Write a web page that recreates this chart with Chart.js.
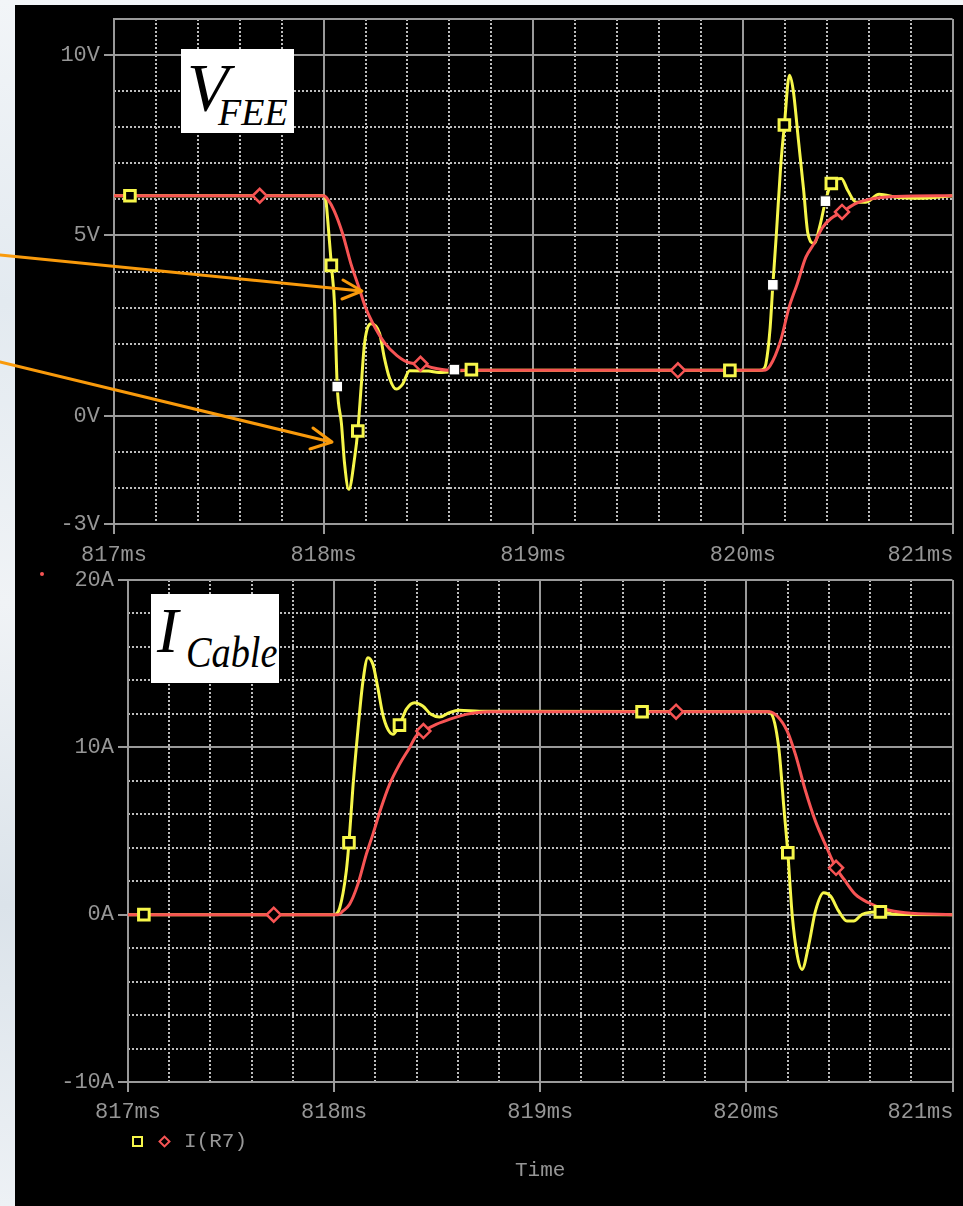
<!DOCTYPE html>
<html>
<head>
<meta charset="utf-8">
<script src="https://cdn.jsdelivr.net/npm/chart.js@4.4.0/dist/chart.umd.min.js"></script>
<style>
  body {
    margin: 0;
    width: 963px;
    height: 1206px;
    overflow: hidden;
    position: relative;
    background: linear-gradient(180deg, #f2f5f8 0%, #e3eaf0 25%, #f0f3f6 50%, #dbe3ea 75%, #edf1f5 100%);
  }
  #panel { position: absolute; left: 15px; top: 5px; width: 948px; height: 1201px; background: #000; }
  canvas { position: absolute; left: 0; }
  #topChart { top: 0; }
  #bottomChart { top: 565px; }
  .tag { position: absolute; background: #fff; font-family: "Liberation Serif", "Times New Roman", serif; font-style: italic; color: #000; }
  .tag span { position: absolute; line-height: 1; white-space: nowrap; }
  .mono { position: absolute; font-family: "Liberation Mono", monospace; font-size: 21px; color: #969696; line-height: 1; }
  #legSquare { position: absolute; left: 132px; top: 1136px; width: 7px; height: 7px; border: 2px solid #f6f64a; }
  #legDiamond { position: absolute; left: 160px; top: 1137px; width: 5px; height: 5px; border: 2px solid #f75454; transform: rotate(45deg); }
  #dot { position: absolute; left: 40px; top: 572px; width: 4px; height: 4px; border-radius: 2px; background: #f75454; }
  svg { position: absolute; left: 0; top: 0; }
</style>
</head>
<body>
<div id="panel"></div>
<div id="dot"></div>
<canvas id="topChart" width="963" height="565"></canvas>
<canvas id="bottomChart" width="963" height="641"></canvas>

<div class="tag" style="left:181px; top:49px; width:113px; height:84px;">
  <span style="left:6px; top:4px; font-size:68px;">V</span>
  <span style="left:37px; top:44px; font-size:38px;">FEE</span>
</div>
<div class="tag" style="left:151px; top:594px; width:128px; height:89px;">
  <span style="left:6px; top:5px; font-size:64px;">I</span>
  <span style="left:35px; top:37px; font-size:44px; transform:scaleX(0.87); transform-origin:left top;">Cable</span>
</div>

<div id="legSquare"></div>
<div id="legDiamond"></div>
<div class="mono" style="left:184px; top:1131px;">I(R7)</div>
<div class="mono" style="left:515px; top:1160px;">Time</div>

<svg width="963" height="1206">
  <g stroke="#f99a0b" stroke-width="3" fill="none" stroke-linecap="round" stroke-linejoin="round">
    <line x1="0" y1="255" x2="361" y2="291" />
    <polyline points="343,280 362,291 342,299" />
    <line x1="0" y1="362" x2="331" y2="442" />
    <polyline points="313,428 332,442 310,449" />
  </g>
</svg>

<script>
// time axis (ms), shared by both plots
const msTicks = [817, 818, 819, 820, 821];
const msMinorTicks = [817.2, 817.4, 817.6, 817.8, 818.2, 818.4, 818.6, 818.8,
  819.2, 819.4, 819.6, 819.8, 820.2, 820.4, 820.6, 820.8];

const voltTicks = [-3, 0, 5, 10, 11];
const voltMinorTicks = [-2, -1, 1, 2, 3, 4, 6, 7, 8, 9];
const ampTicks = [-10, 0, 10, 20];
const ampMinorTicks = [-8, -6, -4, -2, 2, 4, 6, 8, 12, 14, 16, 18];

// V_FEE, yellow trace
const vFastT = [817, 818.0, 818.01, 818.02, 818.037, 818.052, 818.065, 818.085, 818.1, 818.12,
  818.148, 818.163, 818.18, 818.195, 818.227, 818.267, 818.29, 818.314, 818.346, 818.377,
  818.41, 818.5, 818.55, 818.7, 820.08, 820.1, 820.11, 820.13, 820.143, 820.16,
  820.18, 820.198, 820.222, 820.24, 820.265, 820.29, 820.31, 820.34, 820.37, 820.394,
  820.422, 820.47, 820.5, 820.54, 820.585, 820.65, 820.74, 820.84, 821];
const vFastV = [6.1, 6.1, 6.0, 5.4, 4.17, 3.1, 0.81, -0.22, -1.33, -2.04,
  -1.16, -0.42, 0.88, 2.0, 2.55, 2.28, 1.6, 1.05, 0.74, 0.88,
  1.25, 1.24, 1.2, 1.26, 1.26, 1.3, 1.44, 2.44, 3.63, 5.06,
  6.89, 8.06, 9.44, 9.03, 7.64, 6.25, 5.06, 4.78, 5.33, 5.95,
  6.44, 6.58, 6.25, 5.92, 5.92, 6.14, 6.05, 6.03, 6.1];

// V_FEE, red trace
const vSlowT = [817, 818.0, 818.02, 818.05, 818.09, 818.13, 818.17, 818.2, 818.235, 818.29,
  818.35, 818.41, 818.462, 818.52, 818.6, 820.1, 820.13, 820.18, 820.22, 820.26,
  820.3, 820.34, 820.38, 820.42, 820.473, 820.54, 820.63, 820.73, 821];
const vSlowV = [6.1, 6.1, 6.0, 5.69, 5.06, 4.22, 3.53, 3.0, 2.56, 2.03,
  1.67, 1.47, 1.44, 1.33, 1.26, 1.26, 1.39, 2.08, 3.0, 3.67,
  4.39, 4.78, 5.22, 5.47, 5.65, 5.89, 6.03, 6.08, 6.1];

// V_FEE markers
const vSquareT = [817.076, 818.037, 818.163, 818.705, 819.938, 820.198, 820.422];
const vSquareV = [6.1, 4.17, -0.42, 1.28, 1.26, 8.06, 6.44];
const vDiamondT = [817.695, 818.462, 819.69, 820.473];
const vDiamondV = [6.1, 1.44, 1.26, 5.65];
const vWhiteT = [818.065, 818.624, 820.143, 820.394];
const vWhiteV = [0.81, 1.28, 3.63, 5.95];

// I_Cable, yellow trace
const iFastT = [817, 818.0, 818.027, 818.059, 818.072, 818.091, 818.115, 818.14, 818.164, 818.188,
  818.212, 818.236, 818.261, 818.285, 818.317, 818.35, 818.39, 818.43, 818.47, 818.511,
  818.559, 818.608, 818.705, 820.1, 820.117, 820.157, 820.182, 820.201, 820.222, 820.246,
  820.27, 820.303, 820.335, 820.375, 820.408, 820.448, 820.488, 820.521, 820.562, 820.65,
  820.722, 821];
const iFastI = [0, 0, 0.4, 2.6, 4.3, 7.59, 10.97, 13.96, 15.36, 14.96,
  13.56, 11.97, 11.07, 10.78, 11.33, 12.27, 12.67, 12.47, 11.97, 11.81,
  12.07, 12.21, 12.15, 12.13, 12.07, 9.98, 6.39, 3.7, 0.02, -2.37,
  -3.27, -1.78, 0.21, 1.31, 1.11, 0.21, -0.38, -0.38, 0.02, 0.17,
  0.02, 0];

// I_Cable, red trace
const iSlowT = [817, 818.02, 818.043, 818.075, 818.115, 818.156, 818.188, 818.228, 818.269, 818.317,
  818.366, 818.398, 818.433, 818.495, 818.559, 818.64, 818.753, 820.109, 820.149, 820.198,
  820.238, 820.287, 820.335, 820.383, 820.435, 820.48, 820.529, 820.593, 820.674, 820.771, 821];
const iSlowI = [0, 0, 0.22, 0.62, 1.81, 3.6, 4.8, 6.39, 7.79, 8.98,
  9.98, 10.68, 10.97, 11.37, 11.67, 11.97, 12.13, 12.13, 11.87, 10.97,
  9.58, 7.39, 5.59, 4.2, 2.8, 2.0, 1.21, 0.71, 0.32, 0.11, 0];

// I_Cable markers
const iSquareT = [817.077, 818.072, 818.317, 819.494, 820.201, 820.65];
const iSquareI = [0, 4.3, 11.33, 12.13, 3.7, 0.17];
const iDiamondT = [817.707, 818.433, 819.659, 820.435];
const iDiamondI = [0, 10.97, 12.13, 2.8];

const YELLOW = '#f6f64a';
const RED = '#f75454';
const MAJOR = '#9a9a9a';
const MINOR = '#bdbdbd';
const LABEL = '#969696';

Chart.defaults.font.family = '"Liberation Mono", monospace';

const pts = (ts, vs) => ts.map((t, i) => ({ x: t, y: vs[i] }));

function trace(ts, vs, color, width, order) {
  return {
    data: pts(ts, vs), showLine: true, borderColor: color, borderWidth: width,
    pointRadius: 0, cubicInterpolationMode: 'monotone', fill: false, order
  };
}

function markers(ts, vs, style, radius, stroke, fillColor, borderWidth) {
  return {
    data: pts(ts, vs), showLine: false, pointStyle: style, pointRadius: radius,
    pointBorderColor: stroke, pointBackgroundColor: fillColor, pointBorderWidth: borderWidth, order: 0
  };
}

// tick labels under the time axis: the last one sits flush with the right edge
const msLabels = {
  id: 'msLabels',
  afterDraw(chart, args, opts) {
    const { ctx, chartArea } = chart;
    const scale = chart.scales.x;
    ctx.save();
    ctx.font = '22px "Liberation Mono", monospace';
    ctx.fillStyle = LABEL;
    ctx.textBaseline = 'middle';
    scale.ticks.forEach((tick, i) => {
      const last = i === scale.ticks.length - 1;
      ctx.textAlign = last ? 'right' : 'center';
      ctx.fillText(tick.value + 'ms', scale.getPixelForValue(tick.value) + (last ? 1 : 0), chartArea.bottom + opts.offset);
    });
    ctx.restore();
  }
};

function buildScales(yMin, yMax, yTicks, yMinor, unit, yWidth, xHeight, hiddenTick) {
  return {
    x: {
      type: 'linear', min: 817, max: 821, position: 'bottom',
      afterBuildTicks: s => { s.ticks = msTicks.map(v => ({ value: v })); },
      afterFit: s => { s.height = xHeight; },
      ticks: { display: false },
      grid: { color: MAJOR, lineWidth: 2, tickLength: 10, tickColor: MAJOR, tickWidth: 2 },
      border: { color: MAJOR, width: 2 }
    },
    xm: {
      type: 'linear', min: 817, max: 821, position: 'bottom',
      afterBuildTicks: s => { s.ticks = msMinorTicks.map(v => ({ value: v })); },
      afterFit: s => { s.height = 0; },
      ticks: { display: false },
      grid: { color: MINOR, lineWidth: 2, drawTicks: false, borderDash: [2, 2] },
      border: { display: false, dash: [2, 2] }
    },
    y: {
      type: 'linear', min: yMin, max: yMax, position: 'left',
      afterBuildTicks: s => { s.ticks = yTicks.map(v => ({ value: v })); },
      afterFit: s => { s.width = yWidth; },
      ticks: {
        color: LABEL, padding: 4, autoSkip: false,
        font: { size: 22, lineHeight: 1 },
        callback: v => (v === hiddenTick ? '' : v + unit)
      },
      grid: {
        color: MAJOR, lineWidth: 2, tickLength: 10, tickWidth: 2,
        tickColor: c => (c.tick && c.tick.value === hiddenTick ? 'rgba(0,0,0,0)' : MAJOR)
      },
      border: { color: MAJOR, width: 2 }
    },
    ym: {
      type: 'linear', min: yMin, max: yMax, position: 'left',
      afterBuildTicks: s => { s.ticks = yMinor.map(v => ({ value: v })); },
      afterFit: s => { s.width = 0; },
      ticks: { display: false },
      grid: { color: MINOR, lineWidth: 2, drawTicks: false, borderDash: [2, 2] },
      border: { display: false, dash: [2, 2] }
    }
  };
}

function commonOptions(scales, padTop, labelOffset) {
  return {
    responsive: false,
    animation: false,
    devicePixelRatio: 1,
    events: [],
    layout: { padding: { top: padTop, right: 9, left: 0, bottom: 0 } },
    plugins: { legend: { display: false }, tooltip: { enabled: false }, msLabels: { offset: labelOffset } },
    scales
  };
}

new Chart(document.getElementById('topChart'), {
  type: 'scatter',
  data: {
    datasets: [
      markers(vWhiteT, vWhiteV, 'rect', 7.5, '#000', '#ffffff', 1),
      markers(vSquareT, vSquareV, 'rect', 7.5, YELLOW, '#000', 3),
      markers(vDiamondT, vDiamondV, 'rectRot', 7, RED, '#000', 2.5),
      trace(vSlowT, vSlowV, RED, 3, 1),
      trace(vFastT, vFastV, YELLOW, 3, 2)
    ]
  },
  options: commonOptions(buildScales(-3, 11, voltTicks, voltMinorTicks, 'V', 114, 41, 11), 19, 31),
  plugins: [msLabels]
});

new Chart(document.getElementById('bottomChart'), {
  type: 'scatter',
  data: {
    datasets: [
      markers(iSquareT, iSquareI, 'rect', 7.5, YELLOW, '#000', 3),
      markers(iDiamondT, iDiamondI, 'rectRot', 7, RED, '#000', 2.5),
      trace(iSlowT, iSlowI, RED, 3, 1),
      trace(iFastT, iFastI, YELLOW, 3, 2)
    ]
  },
  options: commonOptions(buildScales(-10, 20, ampTicks, ampMinorTicks, 'A', 128, 124, null), 14, 30),
  plugins: [msLabels]
});
</script>
</body>
</html>
